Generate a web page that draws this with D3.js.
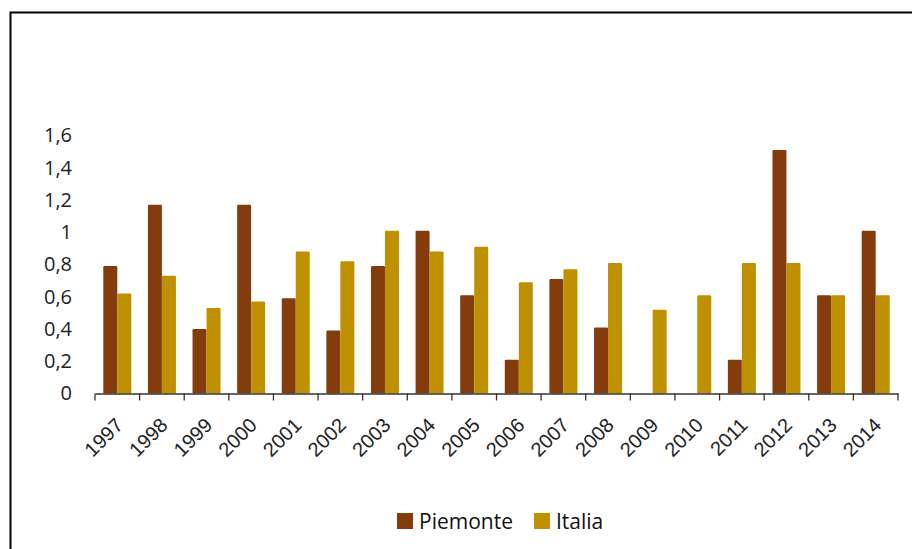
<!DOCTYPE html>
<html>
<head>
<meta charset="utf-8">
<script src="https://cdn.jsdelivr.net/npm/d3@7/dist/d3.min.js"></script>
<style>
  html, body { margin: 0; padding: 0; background: #fff; }
  svg { display: block; font-family: "Open Sans", "DejaVu Sans", sans-serif; }
</style>
</head>
<body>
<svg id="chart" width="912" height="549"></svg>
<script>
const years = ["1997","1998","1999","2000","2001","2002","2003","2004","2005","2006","2007","2008","2009","2010","2011","2012","2013","2014"];
const piemonte = [0.79,1.17,0.40,1.17,0.59,0.39,0.79,1.01,0.61,0.21,0.71,0.41,0,0,0.21,1.51,0.61,1.01];
const italia   = [0.62,0.73,0.53,0.57,0.88,0.82,1.01,0.88,0.91,0.69,0.77,0.81,0.52,0.61,0.81,0.81,0.61,0.61];
const yTicks = [0,0.2,0.4,0.6,0.8,1,1.2,1.4,1.6];
const seriesNames = ["Piemonte","Italia"];
const colors = ["#843C0C","#BF9000"];

const svg = d3.select("#chart");

// outer frame
svg.append("rect").attr("x",10.5).attr("y",12.5).attr("width",940).attr("height",560)
  .attr("fill","none").attr("stroke","#000").attr("stroke-width",2);

const left = 95, right = 898, y0 = 393.5, yTop = 135.5;
const x = d3.scaleBand().domain(years).range([left, right]).paddingInner(0).paddingOuter(0);
const y = d3.scaleLinear().domain([0,1.6]).range([y0, yTop]);
const barW = 14;

const data = years.map((yr,i)=>({yr, vals:[piemonte[i], italia[i]]}));

const g = svg.append("g");
data.forEach(d=>{
  d.vals.forEach((v,j)=>{
    if (v <= 0) return;
    const cx = x(d.yr) + x.bandwidth()/2;
    g.append("rect")
      .attr("x", cx - barW + j*barW)
      .attr("y", y(v))
      .attr("width", barW)
      .attr("height", y0 - y(v))
      .attr("rx", 1.2)
      .attr("fill", colors[j]);
  });
});

// y axis labels (no line)
const ya = svg.append("g").attr("transform",`translate(${left},0)`)
  .call(d3.axisLeft(y).tickValues(yTicks).tickSize(0).tickPadding(23)
    .tickFormat(d=>d3.format("")(+d.toFixed(1)).replace(".",",")));
ya.select(".domain").remove();
ya.selectAll("text").attr("font-size",20).attr("fill","#222").attr("font-family","Open Sans, sans-serif");

// x axis
const xa = svg.append("g").attr("transform",`translate(0,${y0})`)
  .call(d3.axisBottom(x).tickSize(0).tickFormat(""));
xa.select(".domain").attr("stroke","#333").attr("stroke-width",1.3);
const edges = years.map(yr=>x(yr)).concat([right]);
xa.selectAll(".edge").data(edges).enter().append("line")
  .attr("x1",d=>d).attr("x2",d=>d).attr("y1",0).attr("y2",7)
  .attr("stroke","#333").attr("stroke-width",1.3);
xa.selectAll(".lbl").data(years).enter().append("text")
  .attr("transform",d=>`translate(${x(d)+x.bandwidth()/2+7},${33}) rotate(-45)`)
  .attr("text-anchor","end")
  .attr("font-size",20).attr("fill","#222")
  .text(d=>d);

// legend
const leg = svg.append("g");
const legItems = [{name:seriesNames[0], x:397, c:colors[0]},{name:seriesNames[1], x:534, c:colors[1]}];
legItems.forEach(it=>{
  leg.append("rect").attr("x",it.x).attr("y",513).attr("width",16).attr("height",16).attr("fill",it.c);
  leg.append("text").attr("x",it.x+22).attr("y",529).attr("font-size",21).attr("fill","#111").text(it.name);
});
</script>
</body>
</html>
